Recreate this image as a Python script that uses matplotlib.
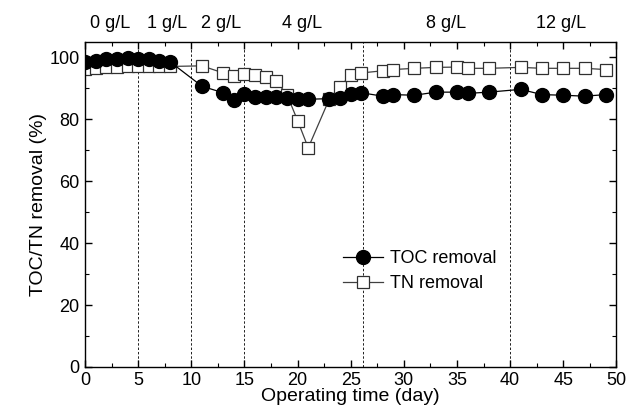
import matplotlib
matplotlib.use("Agg")
import matplotlib.pyplot as plt
from matplotlib.ticker import MultipleLocator

plt.rcParams['font.family'] = ['Liberation Sans', 'DejaVu Sans']

toc_days = [0, 1, 2, 3, 4, 5, 6, 7, 8, 11, 13, 14, 15, 16, 17, 18, 19, 20, 21,
            23, 24, 25, 26, 28, 29, 31, 33, 35, 36, 38, 41, 43, 45, 47, 49]
toc_vals = [98.7, 98.8, 99.5, 99.5, 99.7, 99.6, 99.5, 99.0, 98.6, 90.7, 88.6, 86.2,
            88.1, 87.3, 87.3, 87.3, 86.8, 86.5, 86.5,
            86.7, 87.0, 88.1, 88.6, 87.5, 88.0, 87.8, 88.8, 88.8, 88.4, 88.8,
            89.7, 88.0, 87.8, 87.5, 88.0]

tn_days = [0, 1, 2, 3, 4, 5, 6, 7, 8, 11, 13, 14, 15, 16, 17, 18, 19, 20, 21,
           23, 24, 25, 26, 28, 29, 31, 33, 35, 36, 38, 41, 43, 45, 47, 49]
tn_vals = [96.3, 96.6, 96.9, 97.0, 97.1, 97.1, 97.1, 97.1, 97.1, 97.3, 95.0, 94.1,
           94.8, 94.4, 93.7, 92.3, 88.0, 79.6, 70.8,
           86.7, 90.5, 94.5, 95.0, 95.7, 96.1, 96.5, 96.8, 96.9, 96.5, 96.5,
           96.8, 96.5, 96.5, 96.5, 96.1]

phase_bounds = [5, 10, 15, 26.2, 40]
phase_labels = ["0 g/L", "1 g/L", "2 g/L", "4 g/L", "8 g/L", "12 g/L"]
phase_label_x = [2.4, 7.7, 12.8, 20.4, 34.0, 44.8]

fig = plt.figure(figsize=(6.28, 4.16), dpi=100)
ax = fig.add_axes([0.1355, 0.118, 0.846, 0.781])

for b in phase_bounds:
    ax.axvline(b, color='#202020', linestyle=(0, (2.5, 2)), linewidth=0.7, zorder=1)

ax.plot(tn_days, tn_vals, color='#404040', linewidth=0.9, marker='s',
        markersize=8.5, markerfacecolor='white', markeredgecolor='#303030',
        markeredgewidth=0.9, label='TN removal', zorder=2)
ax.plot(toc_days, toc_vals, color='black', linewidth=0.9, marker='o',
        markersize=10, markerfacecolor='black', markeredgecolor='black',
        label='TOC removal', zorder=3)

ax.set_xlim(0, 50)
ax.set_ylim(0, 105)
ax.xaxis.set_major_locator(MultipleLocator(5))
ax.xaxis.set_minor_locator(MultipleLocator(2.5))
ax.yaxis.set_major_locator(MultipleLocator(20))
ax.yaxis.set_minor_locator(MultipleLocator(10))
ax.tick_params(which='both', direction='in', top=True, right=True, labelsize=13)
ax.tick_params(which='major', length=5, width=1)
ax.tick_params(which='minor', length=3, width=0.8)
ax.tick_params(axis='x', which='major', pad=4)
ax.tick_params(axis='y', which='major', pad=4)
for s in ax.spines.values():
    s.set_linewidth(1)

ax.set_xlabel("Operating time (day)", fontsize=14, labelpad=-1)
ax.set_ylabel("TOC/TN removal (%)", fontsize=14, labelpad=2)

for lbl, xpos in zip(phase_labels, phase_label_x):
    ax.text(xpos, 1.03, lbl, transform=ax.get_xaxis_transform(),
            ha='center', va='bottom', fontsize=13)

handles, labels = ax.get_legend_handles_labels()
ax.legend(handles[::-1], labels[::-1], loc='center left',
          bbox_to_anchor=(0.455, 0.295), frameon=False, fontsize=13,
          handlelength=2.2, handletextpad=0.4, labelspacing=0.45)

fig.savefig("out.png", dpi=100)
